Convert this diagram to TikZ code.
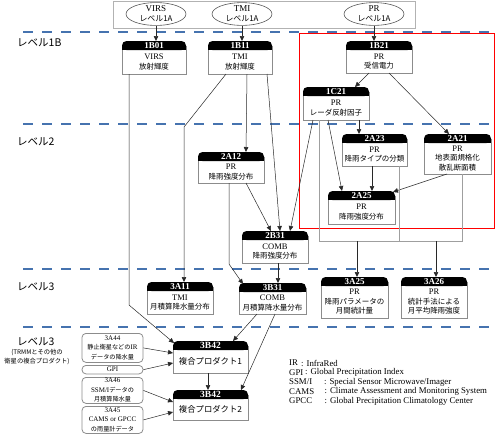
\documentclass[tikz,border=0pt]{standalone}
\usepackage{fontspec}
\setmainfont{Liberation Serif}
\newfontfamily\jp[Scale=0.88]{Noto Sans CJK JP}
\newfontfamily\jpl{Noto Sans CJK JP}
\usetikzlibrary{arrows.meta,shapes.geometric}
\definecolor{dashblue}{RGB}{70,115,175}
\definecolor{boxgray}{RGB}{140,140,140}
\definecolor{linec}{RGB}{40,40,40}
\newcommand\pnode[7]{%
  \node[pframe, minimum width=#4pt, minimum height=#5pt, anchor=north] (#1) at (#2,#3) {};
  \draw[draw=boxgray, line width=0.9pt] ([yshift=-5pt]#1.north west) -- (#1.south west) -- (#1.south east) -- ([yshift=-5pt]#1.north east);
  \fill[black, rounded corners=4.5pt] (#1.north west) rectangle ([yshift=-9pt]#1.north east);
  \fill[black] ([yshift=-5pt]#1.north west) rectangle ([yshift=-9pt]#1.north east);
  \node[htext] (#1h) at ([yshift=-4.7pt]#1.north) {#6};
  \node[btext] (#1t) at ([yshift=-4.5pt]#1.center) {#7};
}
\begin{document}
\begin{tikzpicture}[x=1pt,y=-1pt,
  pframe/.style={rectangle, inner sep=0pt, outer sep=0pt},
  htext/.style={text=white, font=\fontsize{9}{9}\selectfont\bfseries, inner sep=0pt},
  btext/.style={align=center, font=\fontsize{8.5}{9.5}\selectfont, inner sep=0pt},
  arr/.style={draw=linec, line width=0.5pt, -{Triangle[length=5pt,width=4.5pt]}},
  bus/.style={draw=gray!75, line width=0.8pt},
  lvl/.style={draw=dashblue, line width=1.4pt, dash pattern=on 10pt off 9pt},
  sbox/.style={draw=boxgray, line width=0.8pt, rounded corners=4pt, inner sep=0pt, align=center, font=\fontsize{7}{9.5}\selectfont, fill=white, anchor=north},
  ell/.style={ellipse, draw=gray!70!black, line width=0.6pt, minimum width=60pt, minimum height=22pt, inner sep=0pt, align=center, font=\fontsize{9}{10}\selectfont, fill=white},
  lab/.style={font=\fontsize{10.5}{12}\selectfont\jpl, anchor=west, inner sep=0pt},
  lg/.style={font=\fontsize{8.8}{10}\selectfont, anchor=west, inner sep=0pt}
]
\useasboundingbox (0,0) rectangle (495,440);
% level lines
\draw[lvl] (23,32) -- (492,32);
\draw[lvl] (23,124) -- (492,124);
\draw[lvl] (23,269) -- (492,269);
\draw[lvl] (23,327) -- (492,327);
% red frame
\draw[red, line width=1pt] (299,33) rectangle (494,228);
% top frame and ellipses
\node[draw=gray!60, line width=1.2pt, minimum width=302pt, minimum height=27pt, anchor=north west, inner sep=0pt] (topframe) at (113,0.6) {};
\node[ell] (eVIRS) at (156,14) {VIRS\\{\jp レベル1A}};
\node[ell] (eTMI) at (242,14) {TMI\\{\jp レベル1A}};
\node[ell] (ePR) at (374,14) {PR\\{\jp レベル1A}};
% level labels
\node[lab] (lv1) at (17,43) {レベル1B};
\node[lab] (lv2) at (17,142) {レベル2};
\node[lab] (lv3) at (17,287) {レベル3};
\node[lab] (lv4) at (17,342) {レベル3};
\node[font=\fontsize{6.3}{9}\selectfont\jpl, align=center, inner sep=0pt] (lv4n) at (37,356.5) {(TRMMとその他の\\衛星の複合プロダクト)};
% product boxes
\pnode{b1B01}{154}{41}{64}{33}{1B01}{VIRS\\{\jp 放射輝度}}
\pnode{b1B11}{240}{41}{64}{33}{1B11}{TMI\\{\jp 放射輝度}}
\pnode{b1B21}{379}{41}{66}{32}{1B21}{PR\\{\jp 受信電力}}
\pnode{b1C21}{336}{87}{66}{33}{1C21}{PR\\{\jp レーダ反射因子}}
\pnode{b2A12}{231}{152}{66}{31}{2A12}{PR\\{\jp 降雨強度分布}}
\pnode{b2A23}{374.5}{134}{65}{32}{2A23}{PR\\{\jp 降雨タイプの分類}}
\pnode{b2A21}{457.5}{134}{67}{40}{2A21}{PR\\{\jp 地表面規格化}\\{\jp 散乱断面積}}
\pnode{b2A25}{361.5}{191}{67}{33}{2A25}{PR\\{\jp 降雨強度分布}}
\pnode{b2B31}{275}{231}{66}{32}{2B31}{COMB\\{\jp 降雨強度分布}}
\pnode{b3A11}{180}{282}{66}{32}{3A11}{TMI\\{\jp 月積算降水量分布}}
\pnode{b3B31}{272.5}{283}{67}{31}{3B31}{COMB\\{\jp 月積算降水量分布}}
\pnode{b3A25}{354.5}{277}{67}{41}{3A25}{PR\\{\jp 降雨パラメータの}\\{\jp 月間統計量}}
\pnode{b3A26}{434}{277}{66}{41}{3A26}{PR\\{\jp 統計手法による}\\{\jp 月平均降雨強度}}
\pnode{b3B42a}{210.5}{341}{75}{32}{\fontsize{9.5}{9.5}\selectfont 3B42}{\fontsize{9.5}{10}\selectfont\jp 複合プロダクト1}
\pnode{b3B42b}{210.5}{390}{75}{30}{\fontsize{9.5}{9.5}\selectfont 3B42}{\fontsize{9.5}{10}\selectfont\jp 複合プロダクト2}
% small input boxes
\node[sbox, minimum width=61pt, minimum height=29pt] (s3A44) at (112.5,333) {3A44\\{\jp 静止衛星などの}IR\\{\jp データの降水量}};
\node[sbox, minimum width=61pt, minimum height=8.5pt] (sGPI) at (112.5,365) {GPI};
\node[sbox, minimum width=61pt, minimum height=26pt] (s3A46) at (112.5,377) {3A46\\SSM/I{\jp データの}\\{\jp 月積算降水量}};
\node[sbox, minimum width=61pt, minimum height=27pt] (s3A45) at (112.5,406) {3A45\\CAMS or GPCC\\{\jp の雨量計データ}};
% legend
\node[lg] (lgA1) at (289,363) {IR};
\node[lg] (lgA2) at (301,363) {: InfraRed};
\node[lg] (lgB1) at (289,372.5) {GPI};
\node[lg] (lgB2) at (305,372.5) {: Global Precipitation Index};
\node[lg] (lgC1) at (289,382) {SSM/I};
\node[lg] (lgC2) at (324,382) {: Special Sensor Microwave/Imager};
\node[lg] (lgD1) at (289,391.5) {CAMS};
\node[lg] (lgD2) at (324.5,391.5) {: Climate Assessment and Monitoring System};
\node[lg] (lgE1) at (289,401) {GPCC};
\node[lg] (lgE2) at (324.5,401) {: Global Precipitation Climatology Center};
% connectors: level 1A -> 1B
\draw[arr] (eVIRS.south) -- (eVIRS.south |- b1B01.north);
\draw[arr] (eTMI.south) -- (eTMI.south |- b1B11.north);
\draw[arr] (ePR.south) -- (ePR.south |- b1B21.north);
% VIRS / TMI paths
\coordinate (k1) at (129,305);
\draw[arr] ([xshift=-25pt]b1B01.south) -- (k1) -- ([xshift=1pt,yshift=-2pt]b3B42a.north west);
\coordinate (k2) at (184,127);
\draw[arr] ([xshift=-14pt]b1B11.south) -- (k2) -- ([xshift=4pt]b3A11.north);
\draw[arr] ([xshift=7pt]b1B11.south) -- ([xshift=15pt]b2A12.north);
\draw[arr] ([xshift=27pt]b1B11.south) -- ([xshift=5pt]b2B31.north);
\draw[arr] ([xshift=15pt]b2A12.south) -- ([xshift=-4pt]b2B31.north);
\draw[arr] ([xshift=-23pt]b1C21.south) -- ([xshift=15pt]b2B31.north);
\coordinate (k3) at (229,264);
\draw[arr] ([xshift=-2pt]b2A12.south) -- (k3) -- ([xshift=4pt,yshift=-1pt]b3B31.north west);
\draw[arr] ([xshift=3pt]b2B31.south) -- ([xshift=3pt]b2B31.south |- b3B31.north);
% PR chain
\draw[arr] ([xshift=-10pt]b1B21.south) -- ([xshift=19pt]b1C21.north);
\draw[arr] ([xshift=10pt]b1B21.south) -- ([xshift=-8.5pt]b2A21.north);
\draw[arr] ([xshift=23pt]b1C21.south) -- ([xshift=23pt]b1C21.south |- b2A23.north);
\draw[arr] ([xshift=-8pt]b1C21.south) -- ([xshift=-19.5pt]b2A25.north);
\draw[arr] ([xshift=-2.5pt]b2A23.south) -- ([xshift=-2.5pt]b2A23.south |- b2A25.north);
\draw[arr] ([xshift=-10.5pt]b2A21.south) -- ([xshift=-2pt,yshift=-1pt]b2A25.north east);
% bus to 3A25 / 3A26
\coordinate (bl) at (319,241);
\coordinate (br) at (462,241);
\draw[bus] ([xshift=-17pt]b1C21.south) -- (bl) -- (br) -- ([xshift=4.5pt]b2A21.south);
\draw[bus] ([xshift=24.5pt]b2A23.south) -- ([xshift=24.5pt]b2A23.south |- bl);
\draw[arr] ([xshift=2.5pt]b3A25.north |- bl) -- ([xshift=2.5pt]b3A25.north);
\draw[arr] ([xshift=2pt]b3A26.north |- bl) -- ([xshift=2pt]b3A26.north);
% level 3 combined
\draw[arr] ([xshift=-15.5pt]b3B31.south) -- ([xshift=22.5pt]b3B42a.north);
\draw[arr] ([xshift=2.5pt]b3B31.south) -- ([xshift=30.5pt]b3B42b.north);
\draw[arr] ([xshift=-2.5pt]b3B42a.south) -- ([xshift=-2.5pt]b3B42a.south |- b3B42b.north);
\draw[arr] (s3A44.east) -- ([yshift=4pt]b3B42a.west);
\draw[arr] (sGPI.east) -- ([yshift=-6pt]b3B42a.west);
\draw[arr] (s3A46.east) -- ([yshift=3pt]b3B42b.west);
\draw[arr] (s3A45.east) -- ([yshift=-7pt]b3B42b.west);
\end{tikzpicture}
\end{document}
